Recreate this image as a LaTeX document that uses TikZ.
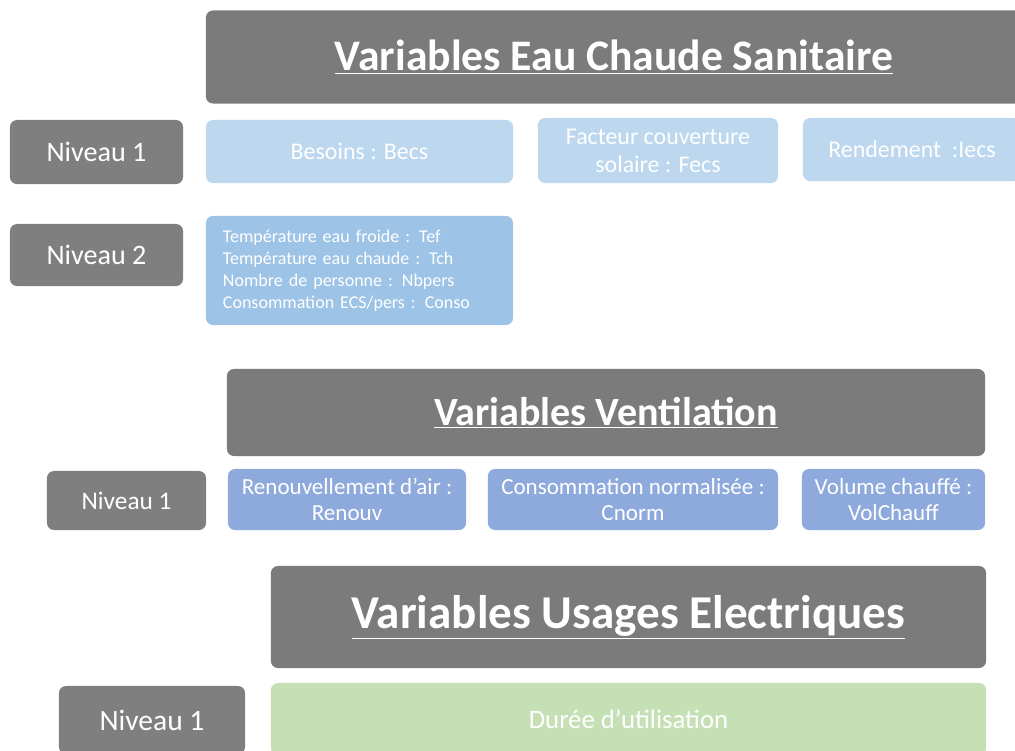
\documentclass[tikz,border=0pt]{standalone}
\usepackage{fontspec}
\setmainfont{Carlito}
\usepackage{xcolor}
\usepackage{tikz}
\definecolor{titlegrey}{HTML}{7B7B7B}
\definecolor{levelgrey}{HTML}{7F7F7F}
\definecolor{ecsblue}{HTML}{BDD7EE}
\definecolor{ecsdeep}{HTML}{9DC3E6}
\definecolor{ventblue}{HTML}{8EA9DB}
\definecolor{elecgreen}{HTML}{C5E0B4}

\begin{document}
\begin{tikzpicture}[
		x = 0.025cm, y = -0.025cm, % pixel grid
		box/.style = {rounded corners=5pt, inner sep=2pt, align=center,
			text=white},
		title/.style = {box, fill=titlegrey, font=\bfseries},
		level/.style = {box, fill=levelgrey, font=\fontsize{20}{24}\selectfont},
	]
	\useasboundingbox (0,0) rectangle (1015,751);

	% eau chaude sanitaire
	\node[title, minimum width=20.4cm, minimum height=2.325cm,
		font=\bfseries\fontsize{31}{36}\selectfont] (ecs) at (614,57)
		{\underline{Variables Eau Chaude Sanitaire}};
	\node[level, minimum width=4.325cm, minimum height=1.6cm] (ecsn1) at (96.5,152) {Niveau 1};
	\node[level, minimum width=4.325cm, minimum height=1.55cm] (ecsn2) at (96.5,255) {Niveau 2};
	\node[box, fill=ecsblue, minimum width=7.675cm, minimum height=1.575cm,
		font=\fontsize{17}{20}\selectfont] (becs) at (359.5,151.5) {Besoins : Becs};
	\node[box, fill=ecsblue, minimum width=6cm, minimum height=1.625cm,
		font=\fontsize{17}{20}\selectfont] (fecs) at (658,150.5) {Facteur couverture\\solaire : Fecs};
	\node[box, fill=ecsblue, minimum width=5.45cm, minimum height=1.575cm,
		font=\fontsize{17}{20}\selectfont] (iecs) at (912,149.5) {Rendement ~:Iecs};
	\node[box, fill=ecsdeep, minimum width=7.675cm, minimum height=2.725cm,
		align=left, text width=6.825cm, font=\fontsize{12.8}{15.6}\selectfont] (conso) at (359.5,270.5)
		{Température eau froide : Tef\\
		Température eau chaude : Tch\\
		Nombre de personne : Nbpers\\
		Consommation ECS/pers : Conso};

	% ventilation
	\node[title, minimum width=18.95cm, minimum height=2.175cm,
		font=\bfseries\fontsize{28.5}{33}\selectfont] (vent) at (606,412.5)
		{\underline{Variables Ventilation}};
	\node[level, minimum width=3.975cm, minimum height=1.475cm,
		font=\fontsize{18}{22}\selectfont] (ventn1) at (126.5,500.5) {Niveau 1};
	\node[box, fill=ventblue, minimum width=5.95cm, minimum height=1.525cm,
		font=\fontsize{16.4}{19}\selectfont] (renouv) at (347,499.5) {Renouvellement d’air :\\Renouv};
	\node[box, fill=ventblue, minimum width=7.25cm, minimum height=1.525cm,
		font=\fontsize{16.4}{19}\selectfont] (cnorm) at (633,499.5) {Consommation normalisée :\\Cnorm};
	\node[box, fill=ventblue, minimum width=4.575cm, minimum height=1.525cm,
		font=\fontsize{16.4}{19}\selectfont] (volch) at (893.5,499.5) {Volume chauffé :\\VolChauff};

	% usages electriques
	\node[title, minimum width=17.875cm, minimum height=2.55cm,
		font=\bfseries\fontsize{33.5}{38}\selectfont] (elec) at (628.5,617)
		{\underline{Variables Usages Electriques}};
	\node[level, minimum width=4.65cm, minimum height=1.7cm,
		font=\fontsize{21}{25}\selectfont] (elecn1) at (152,720) {Niveau 1};
	\node[box, fill=elecgreen, minimum width=17.875cm, minimum height=1.8cm,
		font=\fontsize{19}{22}\selectfont] (duree) at (628.5,719) {Durée d’utilisation};
\end{tikzpicture}
\end{document}
